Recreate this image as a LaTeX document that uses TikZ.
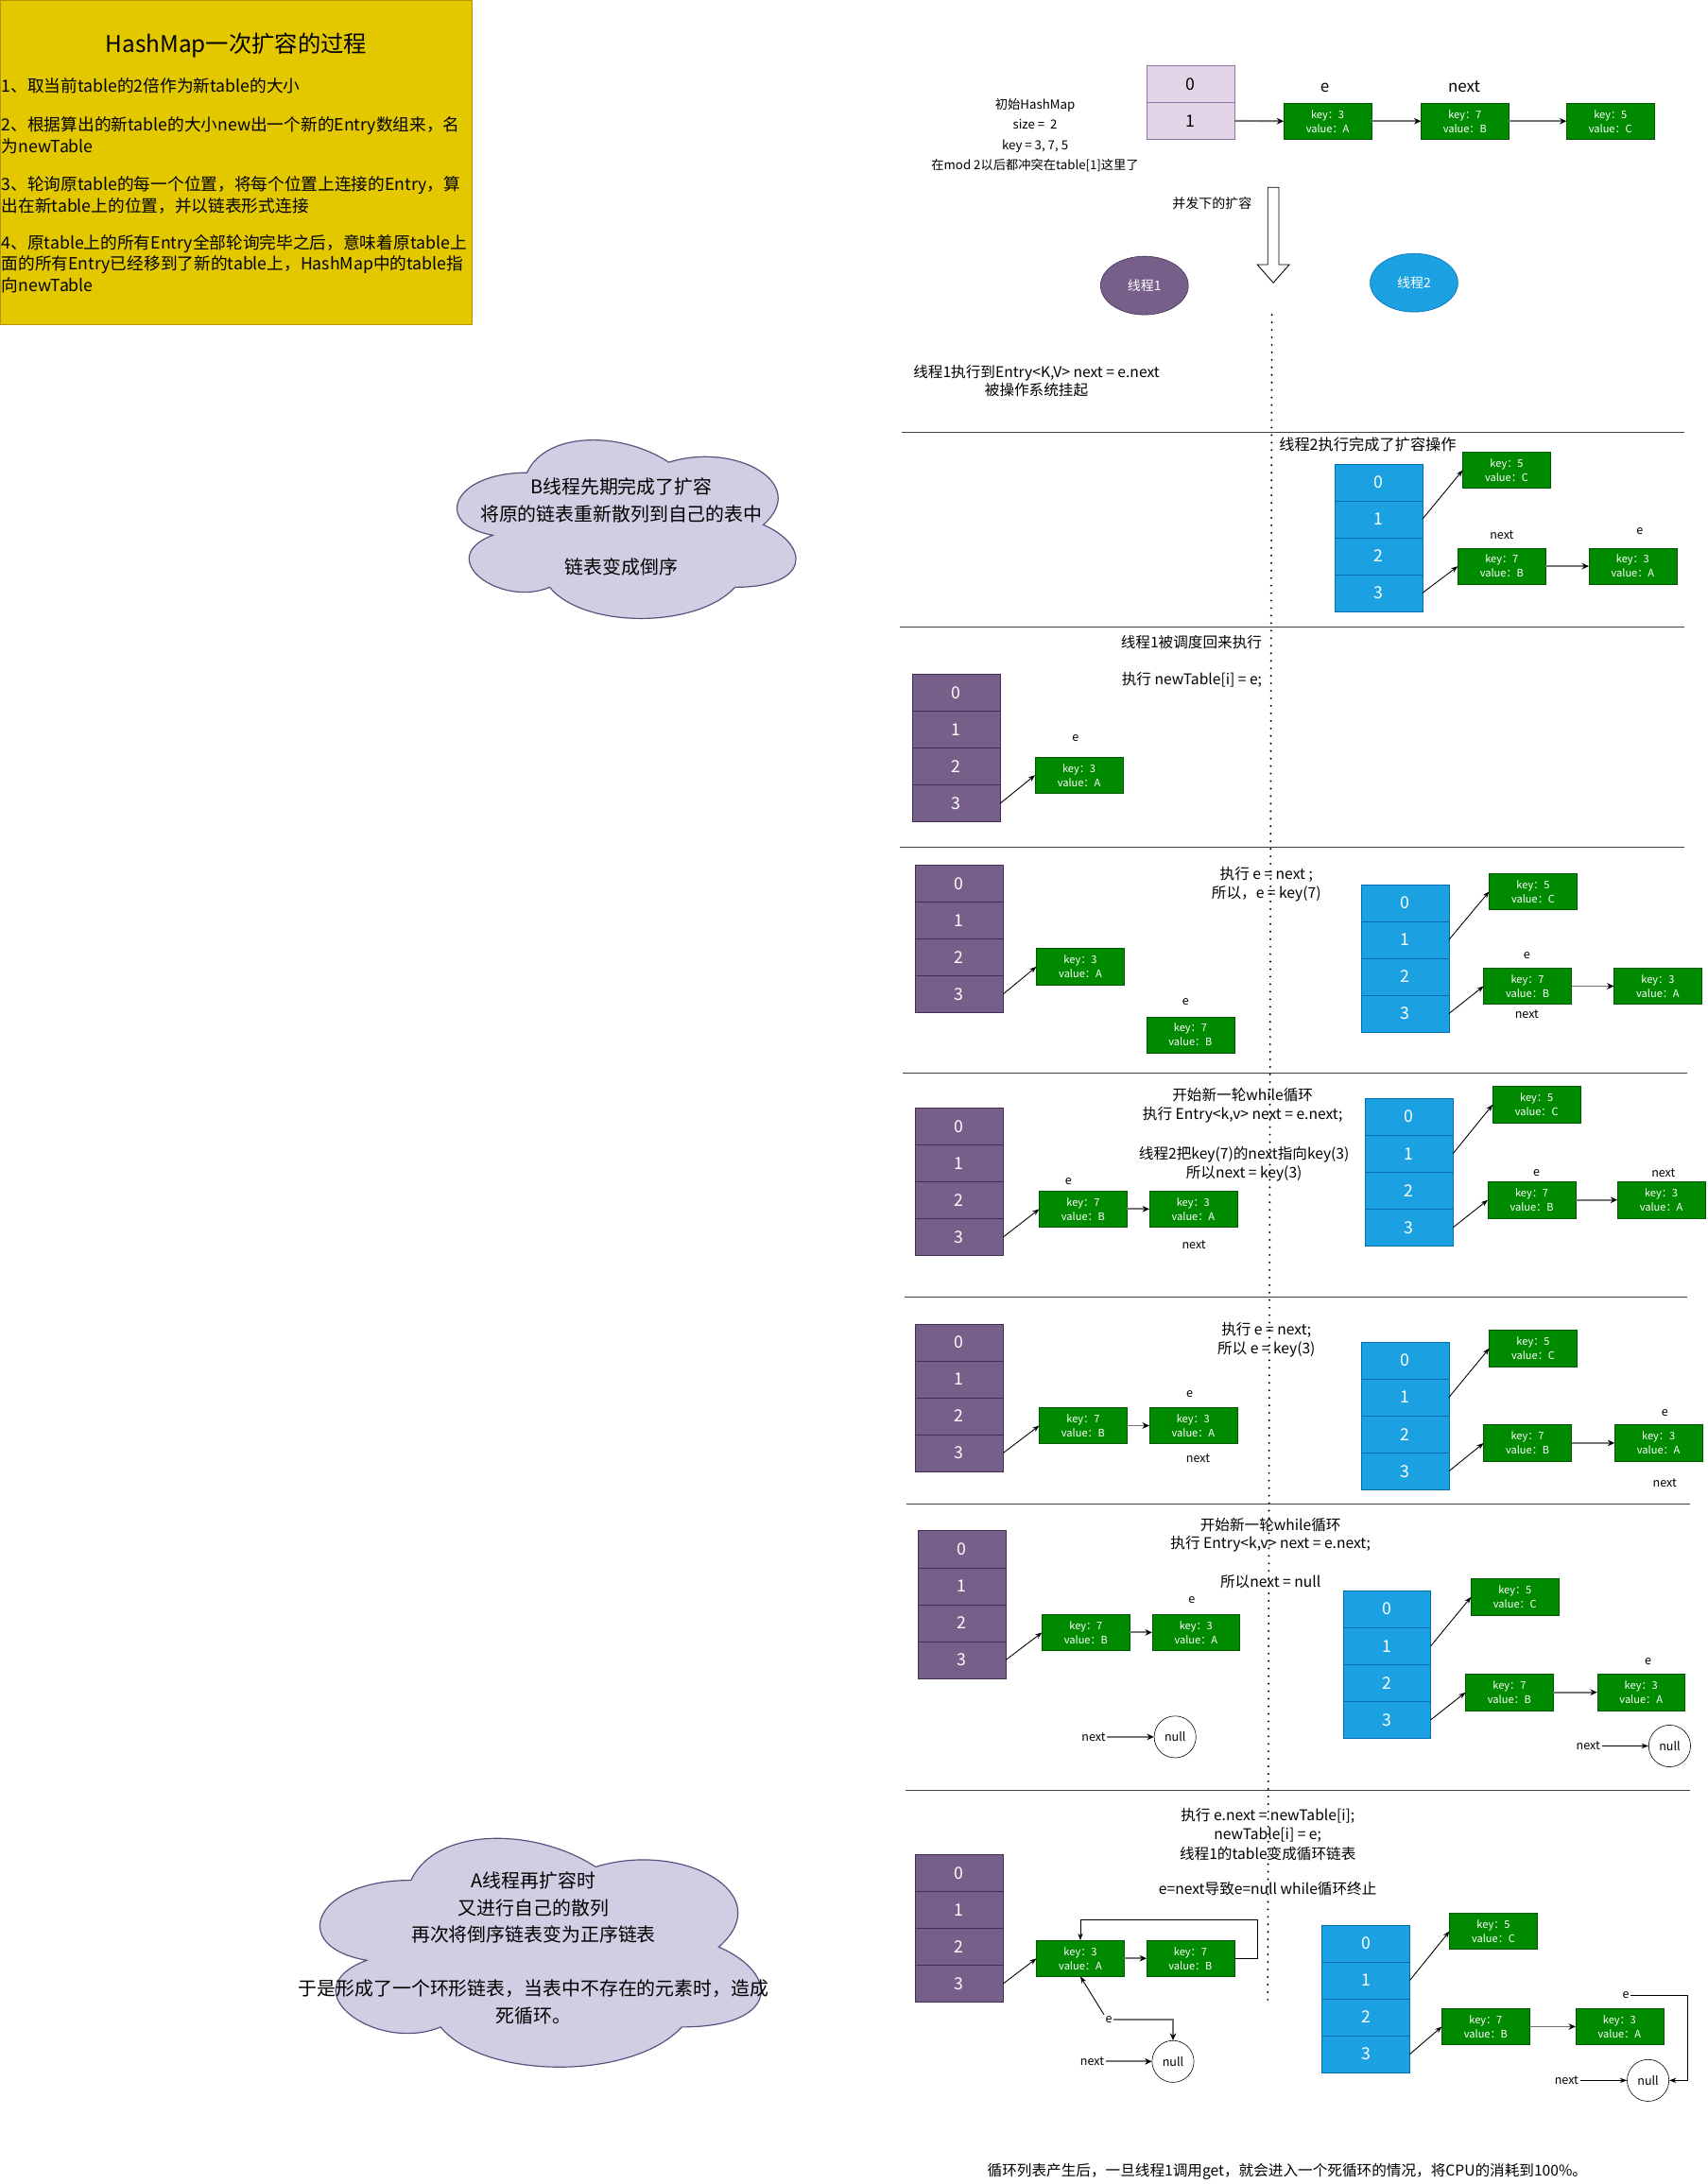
\documentclass[tikz,border=0pt]{standalone}
\usepackage{fontspec}
\setmainfont{Noto Sans CJK SC}
\usetikzlibrary{arrows.meta,shapes.geometric}

\definecolor{tbpurple}{HTML}{76608A}
\definecolor{tbpurpleline}{HTML}{432D57}
\definecolor{tbblue}{HTML}{1BA1E2}
\definecolor{tbblueline}{HTML}{006EAF}
\definecolor{tblight}{HTML}{E1D5E7}
\definecolor{tblightline}{HTML}{9673A6}
\definecolor{entrygreen}{HTML}{008A00}
\definecolor{entryline}{HTML}{005700}
\definecolor{noteyellow}{HTML}{E3C800}
\definecolor{noteline}{HTML}{B09500}
\definecolor{cloudfill}{HTML}{D0CEE2}
\definecolor{cloudline}{HTML}{56517E}

\tikzset{
  pcell/.style={draw=tbpurpleline, fill=tbpurple, text=white, minimum width=63pt, minimum height=26.5pt, inner sep=0pt, outer sep=0pt, font=\fontsize{12}{14}\selectfont},
  bcell/.style={pcell, draw=tbblueline, fill=tbblue},
  lcell/.style={pcell, draw=tblightline, fill=tblight, text=black},
  entrybox/.style={draw=entryline, fill=entrygreen, text=white, minimum width=63pt, minimum height=26pt, inner sep=0pt, outer sep=0pt, align=center, font=\fontsize{7.5}{10.2}\selectfont},
  ptag/.style={inner sep=1pt, font=\fontsize{8.5}{10}\selectfont},
  stepnote/.style={align=center, inner sep=0pt, font=\fontsize{10.6}{13.5}\selectfont},
  yellowline/.style={anchor=west, inner sep=0pt, font=\fontsize{12}{14}\selectfont},
  cloudtext/.style={align=center, inner sep=0pt, font=\fontsize{13.5}{19.3}\selectfont},
  nullnode/.style={circle, draw, fill=white, minimum size=30pt, inner sep=0pt, font=\fontsize{8.5}{10}\selectfont},
  grayarrow/.style={draw=black!55, line width=1.3pt, -{Stealth[black,length=5pt,width=4.5pt]}},
  thinarrow/.style={draw=black, line width=0.6pt, -{Stealth[length=5pt,width=3.6pt]}},
  sepline/.style={draw=black!75, line width=0.8pt},
  dotline/.style={draw=black, line width=1.5pt, line cap=round, dash pattern=on 0pt off 5.4pt},
  cloudpath/.style={draw=cloudline, fill=cloudfill, line width=0.8pt},
}

\begin{document}
\begin{tikzpicture}[x=1pt, y=-1pt]
  \useasboundingbox (0,0) rectangle (1225.5,1568);

  \draw[draw=noteline, fill=noteyellow, line width=0.8pt] (0.4,0.4) rectangle (339,233);
  \node[font=\fontsize{16.5}{18}\selectfont] (title) at (169.6,32.6) {HashMap一次扩容的过程};
  \node[yellowline] (rule1) at (1,61.7) {1、取当前table的2倍作为新table的大小};
  \node[yellowline] (rule2a) at (1,90) {2、根据算出的新table的大小new出一个新的Entry数组来，名};
  \node[yellowline] (rule2b) at (1,105) {为newTable};
  \node[yellowline] (rule3a) at (1,133) {3、轮询原table的每一个位置，将每个位置上连接的Entry，算};
  \node[yellowline] (rule3b) at (1,148) {出在新table上的位置，并以链表形式连接};
  \node[yellowline] (rule4a) at (1,175) {4、原table上的所有Entry全部轮询完毕之后，意味着原table上};
  \node[yellowline] (rule4b) at (1,190) {面的所有Entry已经移到了新的table上，HashMap中的table指};
  \node[yellowline] (rule4c) at (1,205) {向newTable};

  \draw[cloudpath, shift={(310.4,302)}, xscale=271.5, yscale=149.5] (0.25,0.25) .. controls (0.05,0.25) and (0,0.5) .. (0.16,0.55) .. controls (0,0.66) and (0.18,0.9) .. (0.31,0.8) .. controls (0.4,1) and (0.7,1) .. (0.8,0.8) .. controls (1,0.8) and (1,0.6) .. (0.875,0.5) .. controls (1,0.3) and (0.8,0.1) .. (0.625,0.2) .. controls (0.5,0.05) and (0.3,0.05) .. (0.25,0.25) -- cycle;
  \node[cloudtext] (bnote1) at (446,359.2) {B线程先期完成了扩容\\将原的链表重新散列到自己的表中};
  \node[cloudtext] (bnote2) at (446,407) {链表变成倒序};

  \draw[cloudpath, shift={(206.7,1302)}, xscale=353.4, yscale=191.6] (0.25,0.25) .. controls (0.05,0.25) and (0,0.5) .. (0.16,0.55) .. controls (0,0.66) and (0.18,0.9) .. (0.31,0.8) .. controls (0.4,1) and (0.7,1) .. (0.8,0.8) .. controls (1,0.8) and (1,0.6) .. (0.875,0.5) .. controls (1,0.3) and (0.8,0.1) .. (0.625,0.2) .. controls (0.5,0.05) and (0.3,0.05) .. (0.25,0.25) -- cycle;
  \node[cloudtext] (anote1) at (383,1369.5) {A线程再扩容时\\又进行自己的散列\\再次将倒序链表变为正序链表};
  \node[cloudtext] (anote2) at (383,1437.5) {于是形成了一个环形链表，当表中不存在的元素时，造成\\死循环。};

  \node[stepnote, font=\fontsize{9}{14.5}\selectfont] (init) at (743,97) {初始HashMap\\size = \ 2\\key = 3, 7, 5\\在mod 2以后都冲突在table[1]这里了};
  \node[lcell] (s0t0) at (854.5,60.25) {0};
  \node[lcell] (s0t1) at (854.5,86.75) {1};
  \node[entrybox] (s0a) at (953,87) {key：3\\value：A};
  \node[entrybox] (s0b) at (1051.5,87) {key：7\\value：B};
  \node[entrybox] (s0c) at (1156,87) {key：5\\value：C};
  \node[font=\fontsize{11.5}{13}\selectfont] (s0e) at (951,63) {e};
  \node[font=\fontsize{11.5}{13}\selectfont] (s0nx) at (1051,62) {next};
  \draw[grayarrow] (s0t1.east) -- (s0a.west);
  \draw[grayarrow] (s0a) -- (s0b);
  \draw[grayarrow] (s0b) -- (s0c);

  \draw[fill=white, line width=0.6pt] (910,134.5) -- (918,134.5) -- (918,190) -- (925.5,190) -- (914,203) -- (902.5,190) -- (910,190) -- cycle;
  \node[stepnote, font=\fontsize{9.5}{12}\selectfont] (spread) at (870,146.3) {并发下的扩容};
  \node[ellipse, draw=tbpurpleline, fill=tbpurple, text=white, minimum width=63pt, minimum height=42pt, font=\fontsize{9.5}{11}\selectfont] (th1) at (821.5,205) {线程1};
  \node[ellipse, draw=tbblueline, fill=tbblue, text=white, minimum width=63pt, minimum height=42pt, font=\fontsize{9.5}{11}\selectfont] (th2) at (1015,203) {线程2};

  \draw[dotline] (913,226) -- (910,1440);
  \draw[sepline] (647,310.5) -- (1209,310.5);
  \draw[sepline] (646,450) -- (1209,450);
  \draw[sepline] (646,608) -- (1209,608);
  \draw[sepline] (648,770.5) -- (1211,770.5);
  \draw[sepline] (649,931.5) -- (1211,931.5);
  \draw[sepline] (651,1080) -- (1213,1080);
  \draw[sepline] (650,1285.5) -- (1213,1285.5);

  \node[stepnote] (s1txt) at (744,273.5) {线程1执行到Entry<K,V> next = e.next\\被操作系统挂起};

  \node[stepnote, anchor=west, font=\fontsize{11}{13}\selectfont] (s2txt) at (918,319) {线程2执行完成了扩容操作};
  \node[bcell] (s2u0) at (989.5,346.25) {0};
  \node[bcell] (s2u1) at (989.5,372.75) {1};
  \node[bcell] (s2u2) at (989.5,399.25) {2};
  \node[bcell] (s2u3) at (989.5,425.75) {3};
  \node[entrybox] (s2c) at (1081.5,337.5) {key：5\\value：C};
  \node[entrybox] (s2b) at (1078,406.5) {key：7\\value：B};
  \node[entrybox] (s2a) at (1172,406.5) {key：3\\value：A};
  \node[ptag] (s2nx) at (1078,384.5) {next};
  \node[ptag] (s2e) at (1177,381.5) {e};
  \draw[thinarrow] (s2u1.east) -- (s2c.west);
  \draw[thinarrow] (s2u3.east) -- (s2b.west);
  \draw[grayarrow] (s2b) -- (s2a);

  \node[stepnote, anchor=east] (s3txt1) at (906,461) {线程1被调度回来执行};
  \node[stepnote, anchor=east] (s3txt2) at (906,488) {执行 newTable[i] = e;};
  \node[pcell] (s3t0) at (686.5,497.25) {0};
  \node[pcell] (s3t1) at (686.5,523.75) {1};
  \node[pcell] (s3t2) at (686.5,550.25) {2};
  \node[pcell] (s3t3) at (686.5,576.75) {3};
  \node[entrybox] (s3a) at (774.5,556.5) {key：3\\value：A};
  \node[ptag] (s3e) at (772,530) {e};
  \draw[thinarrow] (s3t3.east) -- (s3a.west);

  \node[stepnote, font=\fontsize{10.6}{14}\selectfont] (s4txt) at (909,635) {执行 e = next ;\\所以，e = key(7)};
  \node[pcell] (s4t0) at (688.5,634.25) {0};
  \node[pcell] (s4t1) at (688.5,660.75) {1};
  \node[pcell] (s4t2) at (688.5,687.25) {2};
  \node[pcell] (s4t3) at (688.5,713.75) {3};
  \node[entrybox] (s4a) at (775.5,694) {key：3\\value：A};
  \node[ptag] (s4e) at (851,719) {e};
  \node[entrybox] (s4b) at (854.5,743) {key：7\\value：B};
  \draw[thinarrow] (s4t3.east) -- (s4a.west);
  \node[bcell] (s4u0) at (1008.5,648.25) {0};
  \node[bcell] (s4u1) at (1008.5,674.75) {1};
  \node[bcell] (s4u2) at (1008.5,701.25) {2};
  \node[bcell] (s4u3) at (1008.5,727.75) {3};
  \node[entrybox] (s4rc) at (1100.5,640) {key：5\\value：C};
  \node[entrybox] (s4rb) at (1096.5,708) {key：7\\value：B};
  \node[entrybox] (s4ra) at (1190,708) {key：3\\value：A};
  \node[ptag] (s4re) at (1096,686) {e};
  \node[ptag] (s4rnx) at (1096,728.5) {next};
  \draw[thinarrow] (s4u1.east) -- (s4rc.west);
  \draw[thinarrow] (s4u3.east) -- (s4rb.west);
  \draw[grayarrow] (s4rb) -- (s4ra);

  \node[stepnote] (s5txt1) at (892,793.5) {开始新一轮while循环\\执行 Entry<k,v> next = e.next;};
  \node[stepnote] (s5txt2) at (893,835.5) {线程2把key(7)的next指向key(3)\\所以next = key(3)};
  \node[pcell] (s5t0) at (688.5,808.75) {0};
  \node[pcell] (s5t1) at (688.5,835.25) {1};
  \node[pcell] (s5t2) at (688.5,861.75) {2};
  \node[pcell] (s5t3) at (688.5,888.25) {3};
  \node[entrybox] (s5b) at (777.5,868) {key：7\\value：B};
  \node[entrybox] (s5a) at (856.5,868) {key：3\\value：A};
  \node[ptag] (s5e) at (767,848) {e};
  \node[ptag] (s5nx) at (857,894) {next};
  \draw[thinarrow] (s5t3.east) -- (s5b.west);
  \draw[grayarrow] (s5b) -- (s5a);
  \node[bcell] (s5u0) at (1011.5,801.75) {0};
  \node[bcell] (s5u1) at (1011.5,828.25) {1};
  \node[bcell] (s5u2) at (1011.5,854.75) {2};
  \node[bcell] (s5u3) at (1011.5,881.25) {3};
  \node[entrybox] (s5rc) at (1103,793) {key：5\\value：C};
  \node[entrybox] (s5rb) at (1099.5,861.5) {key：7\\value：B};
  \node[entrybox] (s5ra) at (1192.5,861.5) {key：3\\value：A};
  \node[ptag] (s5re) at (1103,842) {e};
  \node[ptag] (s5rnx) at (1194,842) {next};
  \draw[thinarrow] (s5u1.east) -- (s5rc.west);
  \draw[thinarrow] (s5u3.east) -- (s5rb.west);
  \draw[grayarrow] (s5rb) -- (s5ra);

  \node[stepnote] (s6txt) at (909,961.75) {执行 e = next;\\所以 e = key(3)};
  \node[pcell] (s6t0) at (688.5,963.75) {0};
  \node[pcell] (s6t1) at (688.5,990.25) {1};
  \node[pcell] (s6t2) at (688.5,1016.75) {2};
  \node[pcell] (s6t3) at (688.5,1043.25) {3};
  \node[entrybox] (s6b) at (777.5,1023.5) {key：7\\value：B};
  \node[entrybox] (s6a) at (856.5,1023.5) {key：3\\value：A};
  \node[ptag] (s6e) at (854,1000.5) {e};
  \node[ptag] (s6nx) at (860,1047) {next};
  \draw[thinarrow] (s6t3.east) -- (s6b.west);
  \draw[grayarrow] (s6b) -- (s6a);
  \node[bcell] (s6u0) at (1008.5,976.75) {0};
  \node[bcell] (s6u1) at (1008.5,1003.25) {1};
  \node[bcell] (s6u2) at (1008.5,1029.75) {2};
  \node[bcell] (s6u3) at (1008.5,1056.25) {3};
  \node[entrybox] (s6rc) at (1100.5,968) {key：5\\value：C};
  \node[entrybox] (s6rb) at (1096.5,1036) {key：7\\value：B};
  \node[entrybox] (s6ra) at (1190.5,1036) {key：3\\value：A};
  \node[ptag] (s6re) at (1195,1014.5) {e};
  \node[ptag] (s6rnx) at (1195,1065) {next};
  \draw[thinarrow] (s6u1.east) -- (s6rc.west);
  \draw[thinarrow] (s6u3.east) -- (s6rb.west);
  \draw[grayarrow] (s6rb) -- (s6ra);

  \node[stepnote] (s7txt1) at (912,1102) {开始新一轮while循环\\执行 Entry<k,v> next = e.next;};
  \node[stepnote] (s7txt2) at (912,1135.5) {所以next = null};
  \node[pcell] (s7t0) at (690.5,1112.25) {0};
  \node[pcell] (s7t1) at (690.5,1138.75) {1};
  \node[pcell] (s7t2) at (690.5,1165.25) {2};
  \node[pcell] (s7t3) at (690.5,1191.75) {3};
  \node[entrybox] (s7b) at (779.5,1172) {key：7\\value：B};
  \node[entrybox] (s7a) at (858.5,1172) {key：3\\value：A};
  \node[ptag] (s7e) at (855.5,1149) {e};
  \node[nullnode] (s7n) at (843.5,1247) {null};
  \node[ptag] (s7nx) at (785,1247) {next};
  \draw[thinarrow] (s7t3.east) -- (s7b.west);
  \draw[grayarrow] (s7b) -- (s7a);
  \draw[grayarrow] (s7nx.east) -- (s7n.west);
  \node[bcell] (s7u0) at (995.5,1155.25) {0};
  \node[bcell] (s7u1) at (995.5,1181.75) {1};
  \node[bcell] (s7u2) at (995.5,1208.25) {2};
  \node[bcell] (s7u3) at (995.5,1234.75) {3};
  \node[entrybox] (s7rc) at (1087.5,1146.5) {key：5\\value：C};
  \node[entrybox] (s7rb) at (1083.5,1215) {key：7\\value：B};
  \node[entrybox] (s7ra) at (1178,1215) {key：3\\value：A};
  \node[ptag] (s7re) at (1183,1193) {e};
  \node[nullnode] (s7rn) at (1198.5,1253.5) {null};
  \node[ptag] (s7rnx) at (1140,1253.5) {next};
  \draw[thinarrow] (s7u1.east) -- (s7rc.west);
  \draw[thinarrow] (s7u3.east) -- (s7rb.west);
  \draw[grayarrow] (s7rb) -- (s7ra);
  \draw[thinarrow] (s7rnx.east) -- (s7rn.west);

  \node[stepnote, font=\fontsize{10.6}{13.6}\selectfont] (s8txt1) at (910,1317) {执行 e.next = newTable[i];\\newTable[i] = e;\\线程1的table变成循环链表};
  \node[stepnote] (s8txt2) at (910,1356) {e=next导致e=null while循环终止};
  \node[pcell] (s8t0) at (688.5,1344.75) {0};
  \node[pcell] (s8t1) at (688.5,1371.25) {1};
  \node[pcell] (s8t2) at (688.5,1397.75) {2};
  \node[pcell] (s8t3) at (688.5,1424.25) {3};
  \node[entrybox] (s8a) at (775.5,1406) {key：3\\value：A};
  \node[entrybox] (s8b) at (854.5,1406) {key：7\\value：B};
  \node[ptag] (s8e) at (796,1450) {e};
  \node[nullnode] (s8n) at (842,1480) {null};
  \node[ptag] (s8nx) at (784,1480) {next};
  \coordinate (s8loop) at (902.5,1378);
  \draw[thinarrow] (s8t3.east) -- (s8a.west);
  \draw[grayarrow] (s8a) -- (s8b);
  \draw[thinarrow] (s8b.east) -| (s8loop) -| (s8a.north);
  \draw[thinarrow] (s8e.north west) -- (s8a.south);
  \draw[grayarrow] (s8e.east) -| (s8n.north);
  \draw[grayarrow] (s8nx.east) -- (s8n.west);
  \node[bcell] (s8u0) at (980.5,1395.25) {0};
  \node[bcell] (s8u1) at (980.5,1421.75) {1};
  \node[bcell] (s8u2) at (980.5,1448.25) {2};
  \node[bcell] (s8u3) at (980.5,1474.75) {3};
  \node[entrybox] (s8rc) at (1072,1386.5) {key：5\\value：C};
  \node[entrybox] (s8rb) at (1066.5,1455) {key：7\\value：B};
  \node[entrybox] (s8ra) at (1162.5,1455) {key：3\\value：A};
  \node[ptag] (s8re) at (1167,1432.6) {e};
  \node[nullnode] (s8rn) at (1183,1493.6) {null};
  \node[ptag] (s8rnx) at (1124.5,1493.6) {next};
  \coordinate (s8turn) at (1211.5,1432.6);
  \draw[thinarrow] (s8u1.east) -- (s8rc.west);
  \draw[thinarrow] (s8u3.east) -- (s8rb.west);
  \draw[grayarrow] (s8rb) -- (s8ra);
  \draw[thinarrow] (s8re.east) -- (s8turn) |- (s8rn.east);
  \draw[thinarrow] (s8rnx.east) -- (s8rn.west);

  \node[stepnote] (final) at (924,1559) {循环列表产生后，一旦线程1调用get，就会进入一个死循环的情况，将CPU的消耗到100\%。};
\end{tikzpicture}
\end{document}
